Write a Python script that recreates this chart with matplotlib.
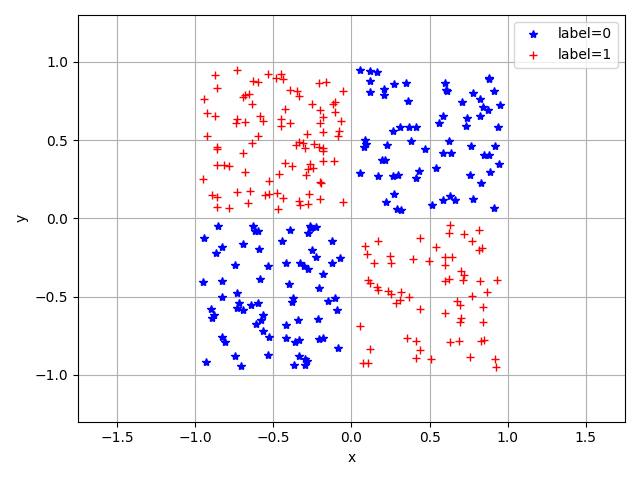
import matplotlib
matplotlib.use("Agg")
import matplotlib.pyplot as plt

# label=0 points (blue stars)
x0 = [0.054,0.118,0.161,0.118,0.206,0.270,0.350,0.120,0.210,0.363,0.601,0.607,0.614,0.880,0.882,0.912,
      0.775,0.822,0.706,0.843,0.876,0.951,0.584,0.558,0.740,0.730,0.822,0.940,0.264,0.311,0.365,0.410,
      0.088,0.092,0.082,0.227,0.384,0.468,0.622,0.586,0.635,0.764,0.918,0.850,0.882,0.942,0.195,0.217,
      0.056,0.167,0.264,0.296,0.429,0.410,0.543,0.758,0.886,0.828,0.275,0.221,0.290,0.318,0.517,0.586,
      0.629,0.661,0.775,0.912,
      -0.853,-0.942,-0.632,-0.615,-0.600,-0.825,-0.868,-0.692,-0.590,-0.744,-0.534,-0.949,-0.825,-0.585,
      -0.733,-0.825,-0.722,-0.735,-0.697,-0.643,-0.596,-0.900,-0.878,-0.893,-0.568,-0.579,-0.611,-0.564,
      -0.526,-0.829,-0.808,-0.744,-0.932,-0.705,-0.534,-0.391,-0.447,-0.280,-0.265,-0.226,-0.256,-0.124,
      -0.254,-0.224,-0.071,-0.124,-0.419,-0.329,-0.301,-0.280,-0.184,-0.398,-0.205,-0.376,-0.380,-0.147,
      -0.103,-0.094,-0.344,-0.419,-0.216,-0.419,-0.359,-0.333,-0.205,-0.184,-0.083,-0.333,-0.297,-0.286,
      -0.365,-0.299]
y0 = [0.946,0.942,0.936,0.878,0.829,0.861,0.865,0.807,0.786,0.749,0.867,0.818,0.812,0.899,0.889,0.814,
      0.803,0.762,0.743,0.711,0.690,0.722,0.657,0.608,0.640,0.593,0.653,0.582,0.561,0.582,0.582,0.582,
      0.503,0.475,0.454,0.471,0.493,0.443,0.493,0.415,0.415,0.460,0.465,0.407,0.407,0.347,0.375,0.375,
      0.287,0.268,0.272,0.278,0.300,0.255,0.319,0.276,0.298,0.229,0.154,0.107,0.058,0.054,0.084,0.118,
      0.143,0.118,0.126,0.069,
      -0.052,-0.123,-0.052,-0.080,-0.080,-0.181,-0.220,-0.162,-0.194,-0.300,-0.307,-0.408,-0.400,-0.389,
      -0.479,-0.505,-0.538,-0.570,-0.587,-0.551,-0.538,-0.577,-0.616,-0.635,-0.616,-0.652,-0.674,-0.717,
      -0.756,-0.760,-0.793,-0.879,-0.916,-0.944,-0.873,-0.073,-0.145,-0.091,-0.048,-0.058,-0.063,-0.145,
      -0.201,-0.248,-0.253,-0.285,-0.285,-0.285,-0.307,-0.322,-0.356,-0.421,-0.443,-0.512,-0.533,-0.529,
      -0.508,-0.587,-0.652,-0.680,-0.646,-0.767,-0.793,-0.778,-0.771,-0.765,-0.829,-0.879,-0.896,-0.911,
      -0.937,-0.937]

# label=1 points (red plus)
x1 = [-0.872,-0.733,-0.534,-0.483,-0.451,-0.440,-0.632,-0.600,-0.859,-0.942,-0.697,-0.679,-0.654,-0.639,
      -0.393,-0.348,-0.333,-0.205,-0.162,-0.051,-0.425,-0.254,-0.199,-0.105,-0.120,-0.103,-0.184,-0.064,
      -0.927,-0.872,-0.735,-0.739,-0.679,-0.585,-0.568,-0.451,-0.451,-0.391,-0.201,-0.077,-0.088,-0.184,
      -0.925,-0.596,-0.639,-0.857,-0.863,-0.284,-0.355,-0.333,-0.308,-0.295,-0.237,-0.205,-0.184,-0.179,
      -0.692,-0.857,-0.814,-0.782,-0.184,-0.109,-0.425,-0.382,-0.265,-0.248,-0.276,-0.679,-0.462,-0.291,
      -0.949,-0.526,-0.199,-0.194,-0.893,-0.857,-0.733,-0.650,-0.553,-0.526,-0.479,-0.440,-0.269,-0.199,
      -0.861,-0.782,-0.662,-0.470,-0.333,-0.327,-0.280,-0.051,
      0.629,0.624,0.719,0.815,0.773,0.833,0.818,0.539,0.597,0.646,0.601,0.700,0.719,0.597,0.624,0.715,
      0.822,0.933,0.865,0.773,0.678,0.693,0.843,0.601,0.700,0.693,0.843,0.629,0.689,0.828,0.850,0.758,
      0.918,0.924,0.436,0.167,0.088,0.097,0.146,0.247,0.253,0.393,0.496,0.107,0.118,0.161,0.172,0.232,
      0.253,0.318,0.367,0.311,0.285,0.436,0.054,0.356,0.414,0.436,0.414,0.118,0.511,0.075,0.103]
y1 = [0.914,0.946,0.925,0.899,0.921,0.889,0.878,0.872,0.831,0.760,0.775,0.786,0.797,0.728,0.822,0.814,
      0.782,0.865,0.872,0.814,0.700,0.728,0.694,0.743,0.728,0.683,0.647,0.625,0.672,0.655,0.636,0.610,
      0.619,0.653,0.625,0.634,0.589,0.610,0.610,0.561,0.529,0.550,0.525,0.525,0.484,0.454,0.443,0.540,
      0.471,0.486,0.482,0.450,0.475,0.454,0.450,0.428,0.418,0.340,0.343,0.336,0.368,0.368,0.351,0.332,
      0.347,0.325,0.315,0.296,0.283,0.276,0.253,0.236,0.233,0.223,0.150,0.137,0.169,0.176,0.148,0.154,
      0.161,0.133,0.158,0.126,0.075,0.064,0.096,0.058,0.111,0.084,0.090,0.105,
      -0.041,-0.091,-0.102,-0.073,-0.145,-0.192,-0.203,-0.181,-0.248,-0.248,-0.300,-0.339,-0.361,-0.400,
      -0.389,-0.395,-0.400,-0.395,-0.473,-0.497,-0.529,-0.551,-0.566,-0.603,-0.635,-0.663,-0.663,-0.793,
      -0.786,-0.786,-0.778,-0.886,-0.901,-0.948,-0.127,-0.145,-0.177,-0.227,-0.285,-0.242,-0.285,-0.259,
      -0.274,-0.397,-0.415,-0.441,-0.458,-0.462,-0.486,-0.473,-0.505,-0.523,-0.544,-0.577,-0.691,-0.767,
      -0.782,-0.842,-0.890,-0.836,-0.901,-0.922,-0.927]

fig, ax = plt.subplots(figsize=(6.4, 4.8), dpi=100)
ax.plot(x0, y0, "b*", linestyle="none", label="label=0")
ax.plot(x1, y1, "r+", linestyle="none", label="label=1")
ax.set_xlim(-1.75, 1.75)
ax.set_ylim(-1.3, 1.3)
ax.set_xlabel("x")
ax.set_ylabel("y")
ax.grid(True)
ax.legend(loc="upper right")
fig.tight_layout()
fig.savefig("out.png")
